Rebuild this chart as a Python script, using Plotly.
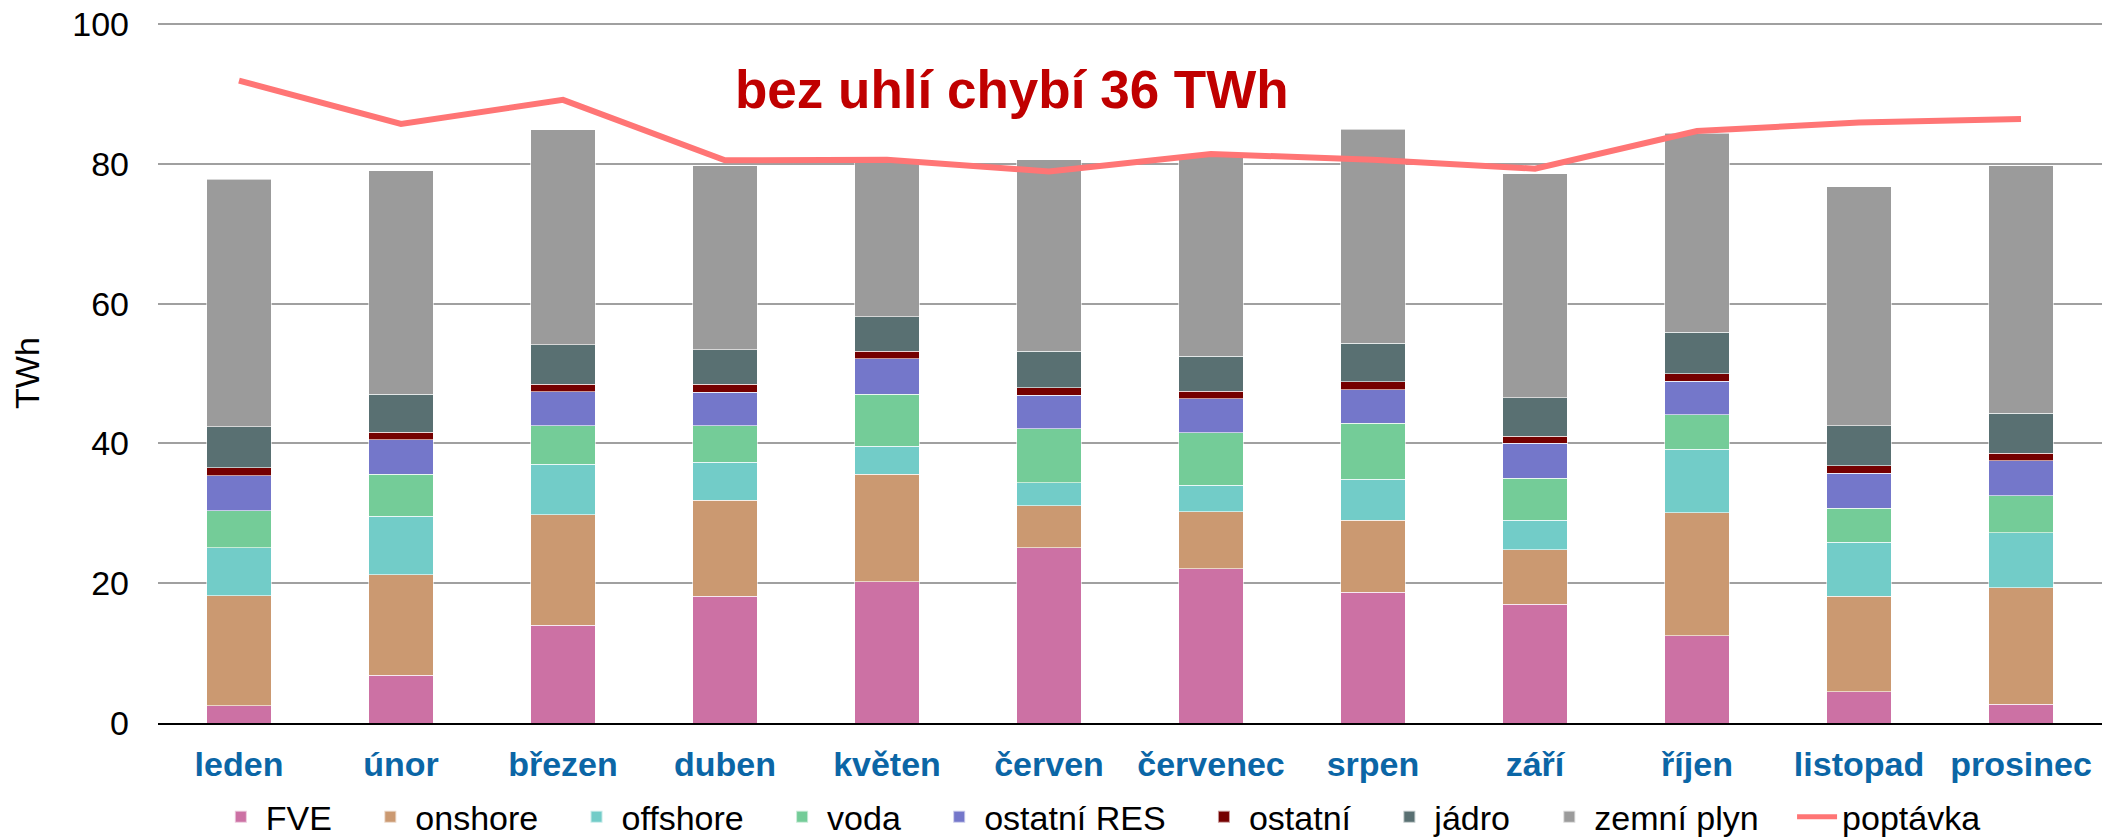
import plotly.graph_objects as go

months = ["leden", "únor", "březen", "duben", "květen", "červen",
          "červenec", "srpen", "září", "říjen", "listopad", "prosinec"]

fve      = [2.5, 6.8, 14.0, 18.1, 20.2, 25.1, 22.1, 18.7, 17.0, 12.5, 4.5, 2.7]
onshore  = [15.7, 14.4, 15.8, 13.8, 15.4, 6.0, 8.1, 10.3, 7.8, 17.6, 13.6, 16.65]
offshore = [6.9, 8.4, 7.2, 5.4, 4.0, 3.3, 3.8, 5.9, 4.2, 9.1, 7.75, 7.85]
voda     = [5.3, 6.0, 5.5, 5.2, 7.45, 7.7, 7.5, 8.0, 6.0, 4.9, 4.85, 5.3]
ost_res  = [5.0, 4.9, 4.9, 4.8, 5.05, 4.8, 4.9, 4.8, 5.0, 4.8, 5.0, 5.0]
ostatni  = [1.1, 1.1, 1.1, 1.2, 1.1, 1.1, 1.1, 1.15, 1.05, 1.1, 1.1, 1.1]
jadro    = [5.9, 5.4, 5.6, 4.9, 4.9, 5.2, 5.0, 5.45, 5.45, 5.9, 5.7, 5.75]
plyn     = [35.4, 32.0, 30.75, 26.3, 22.4, 27.35, 28.5, 30.65, 32.1, 28.5, 34.2, 35.35]
poptavka = [91.9, 85.7, 89.15, 80.5, 80.6, 78.9, 81.4, 80.6, 79.3, 84.7, 85.9, 86.4]

series = [
    ("FVE", fve, "#CC71A4"),
    ("onshore", onshore, "#CB9971"),
    ("offshore", offshore, "#72CCC8"),
    ("voda", voda, "#74CC98"),
    ("ostatní RES", ost_res, "#7477CA"),
    ("ostatní", ostatni, "#750000"),
    ("jádro", jadro, "#597072"),
    ("zemní plyn", plyn, "#9B9B9B"),
]

FONT = "Liberation Sans, Arial, sans-serif"
PAD = "\u00a0" * 3

fig = go.Figure()
for name, vals, col in series:
    fig.add_trace(go.Bar(
        x=months, y=vals, name=name + PAD,
        marker=dict(color=col, line=dict(color="rgba(255,255,255,0.6)", width=1)),
    ))

fig.add_trace(go.Scatter(
    x=months, y=poptavka, name="poptávka", mode="lines",
    line=dict(color="#FF7575", width=6),
))

fig.add_annotation(
    text="<b>bez uhlí chybí 36 TWh</b>",
    xref="paper", yref="y", x=0.4393, y=90.6,
    xanchor="center", yanchor="middle", showarrow=False,
    font=dict(family=FONT, size=53, color="#C00000"),
)

fig.update_layout(
    width=2112, height=839,
    barmode="stack", bargap=0.6,
    plot_bgcolor="white", paper_bgcolor="white",
    margin=dict(l=158, r=10, t=23, b=116, autoexpand=False),
    font=dict(family=FONT, size=34, color="black"),
    legend=dict(
        orientation="h", x=0.485, xanchor="center", y=-0.1345, yanchor="middle",
        font=dict(size=34), traceorder="normal", itemsizing="constant",
        itemwidth=40, tracegroupgap=0,
    ),
    xaxis=dict(
        showgrid=False, showline=True, linecolor="black", linewidth=2,
        tickfont=dict(family=FONT, size=34, color="#0B66A6", weight="bold"),
        ticks="", ticklabelstandoff=10, automargin=False,
    ),
    yaxis=dict(
        range=[0, 100.15], tickvals=[0, 20, 40, 60, 80, 100],
        showgrid=True, gridcolor="#A0A0A0", gridwidth=2,
        zeroline=False, showline=False, ticks="", ticklabelstandoff=28,
        tickfont=dict(size=34, color="black"), automargin=False,
        title=dict(text="TWh", font=dict(size=34), standoff=22),
    ),
)

# remove the default 8px body margin so the figure fills the window exactly
fig.write_html(
    "out.html",
    config={"displayModeBar": False},
    post_script="document.body.style.margin='0';document.body.style.overflow='hidden';",
)
